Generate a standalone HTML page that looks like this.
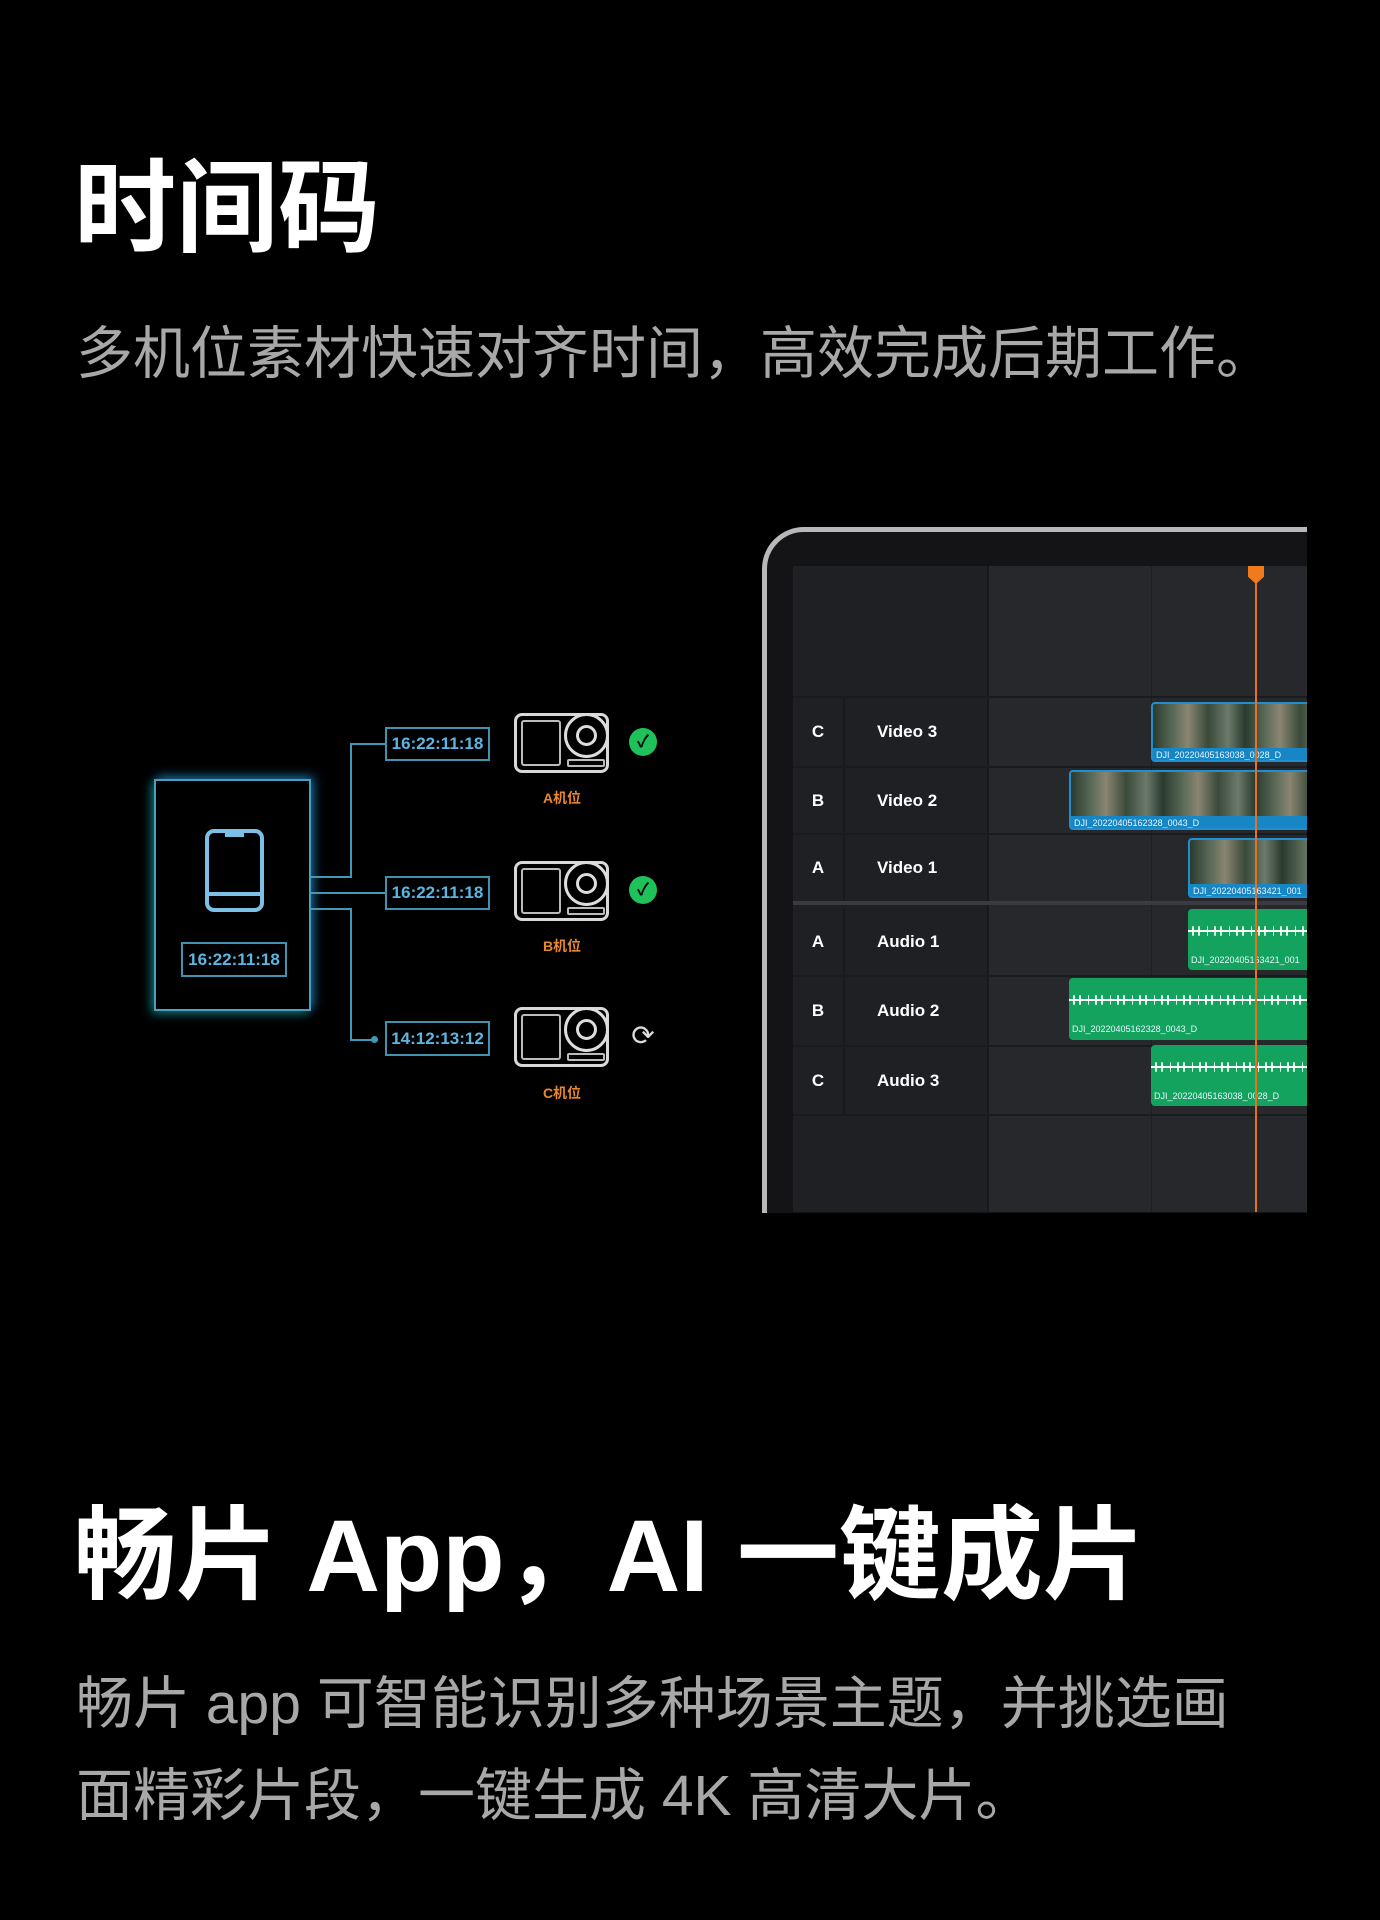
<!DOCTYPE html>
<html><head><meta charset="utf-8"><style>
*{margin:0;padding:0;box-sizing:border-box}
body{width:1380px;height:1920px;background:#000;position:relative;overflow:hidden;font-family:"Liberation Sans","Noto Sans CJK SC",sans-serif}
.a{position:absolute}
.h1{left:74px;font-size:102px;font-weight:bold;color:#fff;line-height:1;white-space:nowrap}
.sub{left:76px;font-size:57px;color:#a8a8a8;line-height:1;white-space:nowrap}
.tc{border:2px solid #3f93b0;color:#5cb6e4;font-weight:bold;font-size:17px;display:flex;align-items:center;justify-content:center}
.ln{background:#3f9ab8}
.cam{width:95px;height:60px;border:3px solid #d8d8d8;border-radius:8px}
.lab{color:#e8872e;font-size:14px;font-weight:bold;width:60px;text-align:center}
.ok{width:28px;height:28px;border-radius:50%;background:#1fc25a;color:#000;font-size:17px;font-weight:bold;text-align:center;line-height:28px}
.row{left:793px;width:514px;border-bottom:2px solid #1a1b1e}
.c1{position:absolute;left:0;width:52px;top:0;bottom:0;background:#1f2024;border-right:2px solid #18191b;color:#fff;font-weight:bold;font-size:17px;display:flex;align-items:center;justify-content:center}
.c2{position:absolute;left:52px;width:144px;top:0;bottom:0;background:#1f2024;border-right:2px solid #18191b;color:#fff;font-weight:bold;font-size:17px;display:flex;align-items:center;padding-left:32px}
.vc{border:2px solid #1f8fd0;background:#1786c4;border-radius:4px;overflow:hidden}
.vc .th{height:44px;background:repeating-linear-gradient(90deg,#2a3a2e 0,#5a6a58 20px,#8a8572 35px,#3a4a3a 55px,#6b7a6a 75px,#2a3a2e 92px)}
.vc .nm,.ac .nm{font-size:9px;color:#e8f4ff;padding-left:3px;line-height:14px;white-space:nowrap}
.ac{background:#14a35e;border-radius:4px;overflow:hidden}
.ac .wv{height:44px;position:relative}
.ac .wv:before{content:"";position:absolute;left:0;right:0;top:21px;height:2px;background:#fff}
.ac .wv:after{content:"";position:absolute;left:4px;right:0;top:10px;height:24px;background:repeating-linear-gradient(90deg,#fff 0 2px,transparent 2px 6px,#fff 6px 8px,transparent 8px 15px,#fff 15px 16px,transparent 16px 22px);opacity:.85;clip-path:polygon(0 30%,100% 30%,100% 70%,0 70%)}
</style></head><body>
<div class="a h1" style="top:158px">时间码</div>
<div class="a sub" style="top:326px">多机位素材快速对齐时间，高效完成后期工作。</div>

<!-- left diagram -->
<div class="a" style="left:154px;top:779px;width:157px;height:232px;border:2px solid #4a9fc0;box-shadow:3px -3px 10px rgba(40,150,230,.6),-3px 3px 10px rgba(40,220,210,.45)"></div>
<div class="a" style="left:205px;top:829px;width:59px;height:83px;border:4px solid #7cc0e8;border-radius:9px"></div>
<div class="a" style="left:205px;top:892px;width:59px;height:4px;background:#7cc0e8"></div>
<div class="a" style="left:225px;top:833px;width:19px;height:4px;background:#7cc0e8"></div>
<div class="a tc" style="left:181px;top:942px;width:106px;height:35px">16:22:11:18</div>

<div class="a ln" style="left:311px;top:876px;width:41px;height:2px"></div>
<div class="a ln" style="left:350px;top:743px;width:2px;height:135px"></div>
<div class="a ln" style="left:350px;top:743px;width:35px;height:2px"></div>
<div class="a ln" style="left:311px;top:892px;width:74px;height:2px"></div>
<div class="a ln" style="left:311px;top:908px;width:41px;height:2px"></div>
<div class="a ln" style="left:350px;top:908px;width:2px;height:133px"></div>
<div class="a ln" style="left:350px;top:1039px;width:24px;height:2px"></div>
<div class="a" style="left:371px;top:1036px;width:7px;height:7px;border-radius:50%;background:#3f9ab8"></div>

<div class="a tc" style="left:385px;top:727px;width:105px;height:34px">16:22:11:18</div>
<div class="a tc" style="left:385px;top:876px;width:105px;height:34px">16:22:11:18</div>
<div class="a tc" style="left:385px;top:1021px;width:105px;height:35px">14:12:13:12</div>

<div class="a cam" style="left:514px;top:713px"><div class="a" style="left:4px;top:4px;width:40px;height:46px;border:2px solid #bbb;border-radius:3px"></div><div class="a" style="left:47px;top:-3px;width:45px;height:45px;border:3px solid #ddd;border-radius:50%"></div><div class="a" style="left:59px;top:9px;width:21px;height:21px;border:3px solid #ddd;border-radius:50%"></div><div class="a" style="left:50px;top:43px;width:38px;height:8px;border:2px solid #bbb;border-radius:2px"></div></div>
<div class="a cam" style="left:514px;top:861px"><div class="a" style="left:4px;top:4px;width:40px;height:46px;border:2px solid #bbb;border-radius:3px"></div><div class="a" style="left:47px;top:-3px;width:45px;height:45px;border:3px solid #ddd;border-radius:50%"></div><div class="a" style="left:59px;top:9px;width:21px;height:21px;border:3px solid #ddd;border-radius:50%"></div><div class="a" style="left:50px;top:43px;width:38px;height:8px;border:2px solid #bbb;border-radius:2px"></div></div>
<div class="a cam" style="left:514px;top:1007px"><div class="a" style="left:4px;top:4px;width:40px;height:46px;border:2px solid #bbb;border-radius:3px"></div><div class="a" style="left:47px;top:-3px;width:45px;height:45px;border:3px solid #ddd;border-radius:50%"></div><div class="a" style="left:59px;top:9px;width:21px;height:21px;border:3px solid #ddd;border-radius:50%"></div><div class="a" style="left:50px;top:43px;width:38px;height:8px;border:2px solid #bbb;border-radius:2px"></div></div>
<div class="a lab" style="left:532px;top:788px">A机位</div>
<div class="a lab" style="left:532px;top:936px">B机位</div>
<div class="a lab" style="left:532px;top:1083px">C机位</div>
<div class="a ok" style="left:629px;top:728px">✓</div>
<div class="a ok" style="left:629px;top:876px">✓</div>
<div class="a" style="left:628px;top:1021px;width:30px;height:30px;color:#ddd;font-size:28px;line-height:30px;text-align:center">⟳</div>

<!-- laptop -->
<div class="a" style="left:762px;top:527px;width:640px;height:760px;border:5px solid #b8b8b8;border-radius:42px;background:#141416"></div>
<div class="a" style="left:793px;top:566px;width:514px;height:646px;background:#27282c"></div>
<div class="a" style="left:793px;top:566px;width:196px;height:646px;background:#1f2024;border-right:2px solid #18191b"></div>
<div class="a" style="left:1151px;top:566px;width:1px;height:646px;background:#1d1e21"></div>
<div class="a" style="left:793px;top:696px;width:514px;height:2px;background:#1a1b1e"></div>
<div class="a row" style="top:698px;height:70px"><div class="c1">C</div><div class="c2">Video 3</div></div>
<div class="a row" style="top:768px;height:67px"><div class="c1">B</div><div class="c2">Video 2</div></div>
<div class="a row" style="top:835px;height:70px;border-bottom:4px solid #3a3b3f"><div class="c1">A</div><div class="c2">Video 1</div></div>
<div class="a row" style="top:909px;height:68px"><div class="c1">A</div><div class="c2">Audio 1</div></div>
<div class="a row" style="top:977px;height:70px"><div class="c1">B</div><div class="c2">Audio 2</div></div>
<div class="a row" style="top:1047px;height:69px"><div class="c1">C</div><div class="c2">Audio 3</div></div>

<div class="a vc" style="left:1151px;top:702px;width:160px;height:60px"><div class="th"></div><div class="nm">DJI_20220405163038_0028_D</div></div>
<div class="a vc" style="left:1069px;top:770px;width:242px;height:60px"><div class="th"></div><div class="nm">DJI_20220405162328_0043_D</div></div>
<div class="a vc" style="left:1188px;top:838px;width:123px;height:60px"><div class="th"></div><div class="nm">DJI_20220405163421_001</div></div>
<div class="a ac" style="left:1188px;top:909px;width:123px;height:61px"><div class="wv"></div><div class="nm">DJI_20220405163421_001</div></div>
<div class="a ac" style="left:1069px;top:978px;width:242px;height:62px"><div class="wv"></div><div class="nm">DJI_20220405162328_0043_D</div></div>
<div class="a ac" style="left:1151px;top:1045px;width:160px;height:61px"><div class="wv"></div><div class="nm">DJI_20220405163038_0028_D</div></div>

<div class="a" style="left:1255px;top:566px;width:2px;height:646px;background:#e8721c"></div>
<div class="a" style="left:1248px;top:566px;width:16px;height:18px;background:#f07a1e;clip-path:polygon(0 0,100% 0,100% 60%,50% 100%,0 60%)"></div>
<div class="a" style="left:1307px;top:500px;width:80px;height:800px;background:#000"></div>
<div class="a" style="left:740px;top:1213px;width:640px;height:90px;background:#000"></div>

<div class="a h1" style="top:1505px">畅片 App，AI 一键成片</div>
<div class="a sub" style="top:1676px">畅片 app 可智能识别多种场景主题，并挑选画</div>
<div class="a sub" style="top:1768px">面精彩片段，一键生成 4K 高清大片。</div>
</body></html>
